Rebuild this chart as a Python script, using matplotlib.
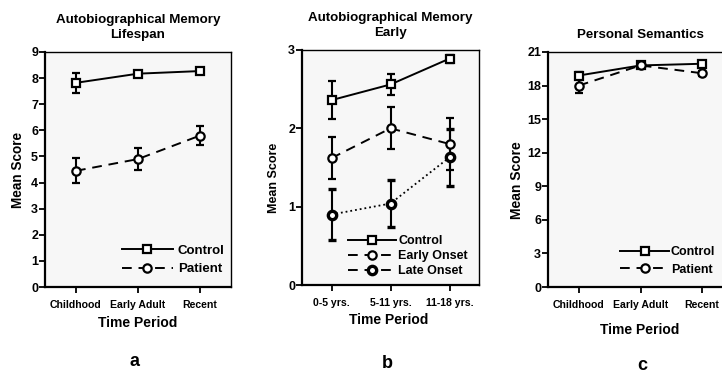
"""Three-panel line chart: autobiographical memory and personal semantics scores."""

import matplotlib
matplotlib.use("Agg")
import matplotlib.pyplot as plt
from matplotlib.lines import Line2D

plt.rcParams["font.family"] = ["Liberation Sans", "DejaVu Sans"]
plt.rcParams["font.weight"] = "bold"

# panel a: autobiographical memory, lifespan
periods_a = ["Childhood", "Early Adult", "Recent"]
control_a = [7.82, 8.17, 8.27]
control_a_err = [0.38, 0.08, 0.08]
patient_a = [4.45, 4.9, 5.8]
patient_a_err = [0.48, 0.43, 0.35]

# panel b: autobiographical memory, early
periods_b = ["0-5 yrs.", "5-11 yrs.", "11-18 yrs."]
control_b = [2.36, 2.56, 2.89]
control_b_err = [0.24, 0.14, 0.05]
early_onset_b = [1.62, 2.0, 1.8]
early_onset_b_err = [0.27, 0.27, 0.33]
late_onset_b = [0.9, 1.04, 1.63]
late_onset_b_err = [0.32, 0.3, 0.36]

# panel c: personal semantics
periods_c = ["Childhood", "Early Adult", "Recent"]
control_c = [18.9, 19.8, 19.95]
control_c_err = [0.3, 0.15, 0.15]
patient_c = [18.0, 19.8, 19.1]
patient_c_err = [0.7, 0.15, 0.2]

FIG_W, FIG_H = 722, 377
AX_BG = "#f7f7f7"
DASH = (0, (5, 3.5))
MS = {"s": 5.2, "o": 6.0}


def px_axes(fig, left, top, right, bottom):
    """Place an axes using pixel edges measured from the top-left corner."""
    return fig.add_axes([left / FIG_W, 1 - bottom / FIG_H,
                         (right - left) / FIG_W, (bottom - top) / FIG_H])


def series(ax, x, y, err, ls, marker, lw=1.4, mew=1.6):
    ax.errorbar(x, y, yerr=err, color="black", linestyle=ls, linewidth=lw,
                marker=marker, markersize=MS[marker], markerfacecolor="white",
                markeredgecolor="black", markeredgewidth=mew,
                ecolor="black", elinewidth=1.5, capsize=3, capthick=1.5)


def handle(ls, marker, mew=1.6):
    return Line2D([], [], color="black", lw=1.4, ls=ls, marker=marker,
                  ms=MS[marker], mfc="white", mec="black", mew=mew)


def style_axes(ax, labels, ymax, ystep, title):
    ax.set_facecolor(AX_BG)
    ax.set_xlim(-0.5, 2.5)
    ax.set_ylim(0, ymax)
    ax.set_yticks(range(0, ymax + 1, ystep))
    ax.set_xticks(range(len(labels)))
    ax.set_xticklabels(labels, fontsize=7.6, fontweight="bold")
    ax.tick_params(axis="y", labelsize=9, length=4, width=1.3, pad=1)
    ax.tick_params(axis="x", length=4, width=1.3, pad=5)
    for side in ["left", "bottom"]:
        ax.spines[side].set_linewidth(1.6)
    for side in ["top", "right"]:
        ax.spines[side].set_linewidth(1.0)
    ax.set_title(title, fontsize=9.6, fontweight="bold", pad=10,
                 linespacing=1.3)


def main() -> None:
    fig = plt.figure(figsize=(FIG_W / 100, FIG_H / 100), dpi=100)
    x = range(3)

    # ---- panel a
    ax_a = px_axes(fig, 45, 52, 231, 287)
    series(ax_a, x, control_a, control_a_err, "-", "s")
    series(ax_a, x, patient_a, patient_a_err, DASH, "o")
    style_axes(ax_a, periods_a, 9, 1, "Autobiographical Memory\nLifespan")
    ax_a.legend(handles=[handle("-", "s"), handle(DASH, "o")],
                labels=["Control", "Patient"], loc="lower right",
                frameon=False, handlelength=3.8, fontsize=9.5,
                labelspacing=0.45, handletextpad=0.4,
                bbox_to_anchor=(1.03, 0.0))

    # ---- panel b
    ax_b = px_axes(fig, 302, 50, 479, 285)
    series(ax_b, x, control_b, control_b_err, "-", "s")
    series(ax_b, x, early_onset_b, early_onset_b_err, DASH, "o")
    series(ax_b, x, late_onset_b, late_onset_b_err, ":", "o", lw=1.3, mew=2.4)
    style_axes(ax_b, periods_b, 3, 1, "Autobiographical Memory\nEarly")
    ax_b.legend(handles=[handle("-", "s"), handle(DASH, "o"),
                         handle(DASH, "o", mew=2.4)],
                labels=["Control", "Early Onset", "Late Onset"],
                loc="lower right", frameon=False, handlelength=3.9,
                fontsize=9, labelspacing=0.25, handletextpad=0.15,
                bbox_to_anchor=(1.0, -0.015))

    # ---- panel c (runs off the right edge of the figure)
    ax_c = px_axes(fig, 548, 52, 733, 287)
    series(ax_c, x, control_c, control_c_err, "-", "s")
    series(ax_c, x, patient_c, patient_c_err, DASH, "o")
    style_axes(ax_c, periods_c, 21, 3, "Personal Semantics")
    ax_c.legend(handles=[handle("-", "s"), handle(DASH, "o")],
                labels=["Control", "Patient"], loc="lower left",
                frameon=False, handlelength=3.9, fontsize=9,
                labelspacing=0.45, handletextpad=0.15,
                bbox_to_anchor=(0.33, 0.0))

    # axis titles placed in pixel coordinates
    for xc, yc in [(138, 323), (389, 320), (640, 330)]:
        fig.text(xc / FIG_W, 1 - yc / FIG_H, "Time Period", ha="center",
                 va="center", fontsize=10, fontweight="bold")
    for xc, yc, fs in [(18, 170, 9.8), (274, 178, 9), (517, 180, 10)]:
        fig.text(xc / FIG_W, 1 - yc / FIG_H, "Mean Score", ha="center",
                 va="center", rotation=90, fontsize=fs, fontweight="bold")
    for xc, yc, letter in [(135, 362, "a"), (387, 364, "b"), (642, 366, "c")]:
        fig.text(xc / FIG_W, 1 - yc / FIG_H, letter, ha="center", va="center",
                 fontsize=13, fontweight="bold")

    fig.savefig("out.png", dpi=100)
    plt.close(fig)


if __name__ == "__main__":
    main()
